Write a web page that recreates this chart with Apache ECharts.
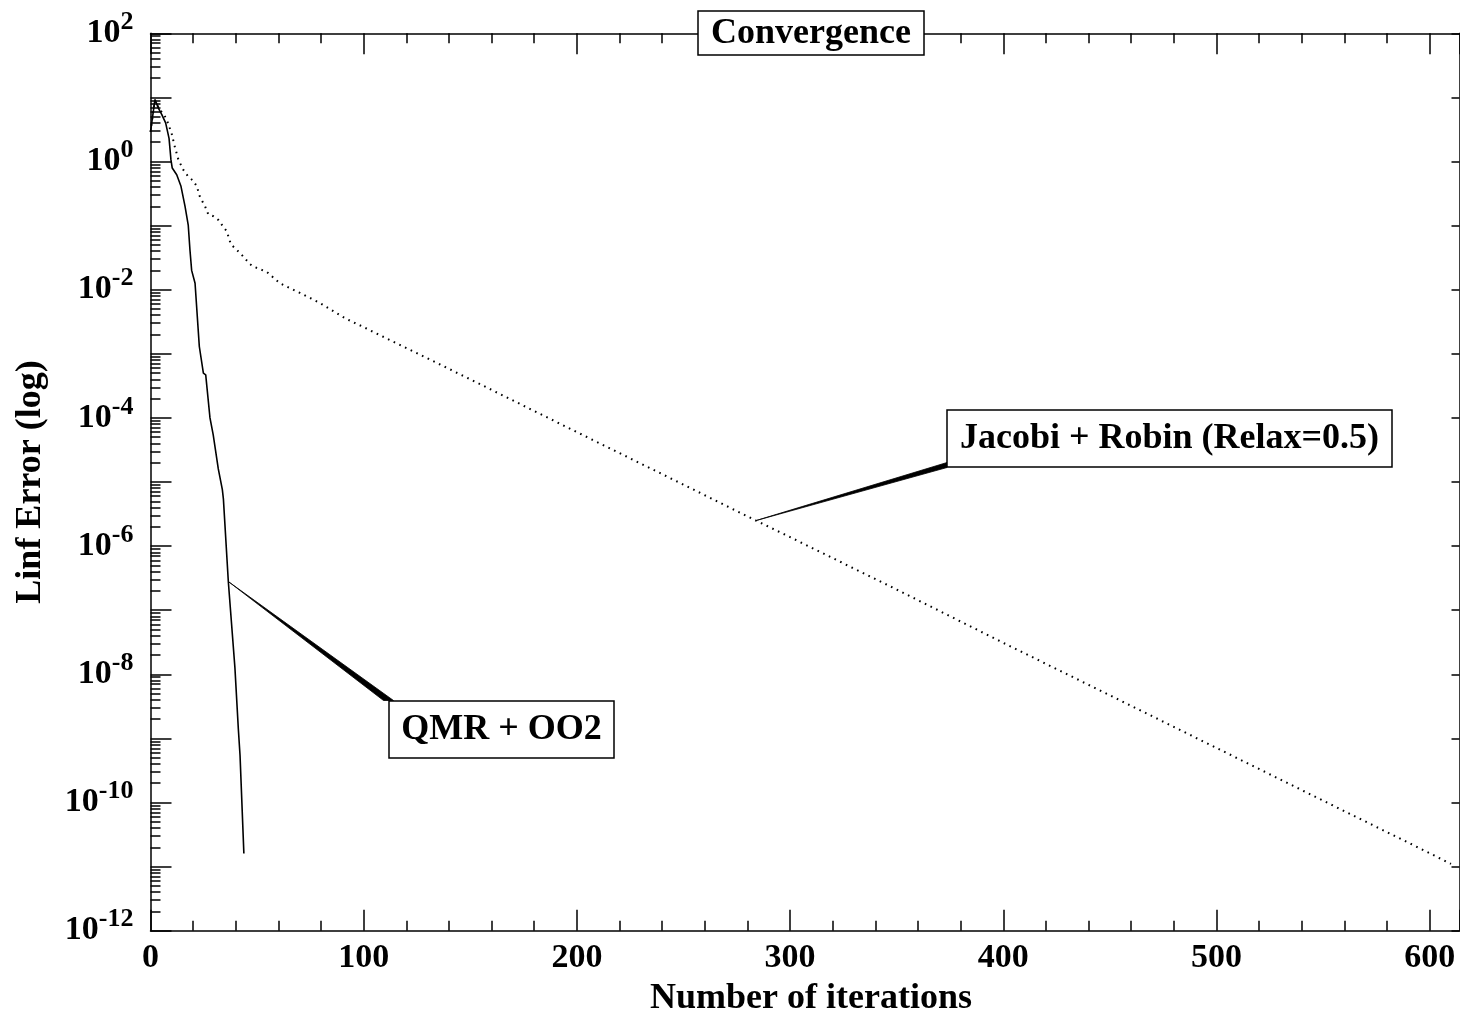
<!DOCTYPE html>
<html>
<head>
<meta charset="utf-8">
<title>Convergence</title>
<script src="https://cdn.jsdelivr.net/npm/echarts@6/dist/echarts.min.js"></script>
<style>
  html, body { margin: 0; padding: 0; background: #fff; }
  #main { width: 1460px; height: 1029px; }
</style>
</head>
<body>
<div id="main"></div>
<script>
// iterations / Linf error
var qmrIter = [0, 2.1, 3.7, 5.3, 7.1, 8.7, 9.6, 10.2, 12.3, 14.3, 16.2, 17.7, 18.5, 19.3, 20.9,
  22.9, 24.8, 25.9, 27.9, 29.4, 31.8, 33.7, 34.2, 36.5, 39.6, 41.2, 42.0, 43.8];
var qmrErr = [2.9, 9.3, 6.8, 5.4, 4.0, 2.3, 1.06, 0.79, 0.62, 0.41, 0.20, 0.102, 0.042, 0.020, 0.0126,
  1.3e-3, 5.0e-4, 4.7e-4, 1.0e-4, 5.5e-5, 1.6e-5, 7.6e-6, 5.4e-6, 2.8e-7, 1.26e-8, 1.4e-9, 5.4e-10, 1.6e-11];

var jacIter = [0, 2, 4.5, 6.0, 7.6, 9.9, 11.2, 13.1, 15.4, 17.7, 20.1, 21.7, 23.2, 25.6, 27.1, 29.5,
  31.8, 34.2, 35.8, 37.7, 40.4, 42.8, 46.7, 48.2, 54.5, 60.7, 70.1, 79.5, 91.2, 100, 150, 200, 250,
  284, 300, 350, 400, 450, 500, 550, 600, 610];
var jacErr = [2.9, 9.0, 6.3, 5.6, 4.5, 2.75, 1.8, 1.06, 0.74, 0.58, 0.50, 0.41, 0.28, 0.20, 0.15, 0.14,
  0.123, 0.095, 0.081, 0.051, 0.042, 0.035, 0.025, 0.023, 0.019, 0.0126, 0.0089, 0.0062, 0.0036, 2.6e-3,
  4.0e-4, 6.0e-5, 9.1e-6, 2.5e-6, 1.38e-6, 2.1e-7, 3.1e-8, 4.7e-9, 7.1e-10, 1.07e-10, 1.62e-11, 1.1e-11];

// labels of the two curves and where their leaders touch the curve
var qmrLabel = 'QMR + OO2';
var jacLabel = 'Jacobi + Robin (Relax=0.5)';
var qmrAnchor = [36.5, 2.8e-7];
var jacAnchor = [284, 2.5e-6];

var xMin = 0, xMax = 614, xStep = 100;
var yMinExp = -12, yMaxExp = 2;

var FONT = '"Liberation Serif", "Times New Roman", serif';

function zip(a, b) {
  var out = [];
  for (var i = 0; i < a.length; i++) out.push([a[i], b[i]]);
  return out;
}

// log minor ticks (2..9 in every decade), in exponent space
var minorVals = [];
for (var e = yMinExp; e < yMaxExp; e++) {
  for (var k = 2; k <= 9; k++) minorVals.push(e + Math.log10(k));
}

var myChart = echarts.init(document.getElementById('main'));

var axisLine = { show: true, onZero: false, lineStyle: { color: '#000', width: 1.5 } };
var noLine = { show: false, onZero: false };
var tickLine = { color: '#000', width: 1.5 };

var option = {
  animation: false,
  backgroundColor: '#fff',
  grid: { left: 150.5, right: 0.5, top: 33.3, bottom: 98.3, containLabel: false, outerBoundsMode: 'none' },
  xAxis: [
    {
      type: 'value', position: 'bottom', min: xMin, max: xMax, interval: xStep,
      axisLine: axisLine,
      axisTick: { inside: true, length: 21, lineStyle: tickLine },
      minorTick: { show: true, splitNumber: 5, length: 10, lineStyle: tickLine },
      splitLine: { show: false },
      axisLabel: {
        margin: 11, fontSize: 34, fontWeight: 'bold', fontFamily: FONT, color: '#000',
        formatter: function (v) { return v % 100 === 0 ? String(v) : ''; }
      },
      name: 'Number of iterations', nameLocation: 'middle', nameGap: 50,
      nameTextStyle: { fontSize: 36, fontWeight: 'bold', fontFamily: FONT, color: '#000', padding: [0, 0, 0, 12] }
    },
    {
      type: 'value', position: 'top', min: xMin, max: xMax, interval: xStep,
      axisLine: axisLine,
      axisTick: { inside: true, length: 21, lineStyle: tickLine },
      minorTick: { show: true, splitNumber: 5, length: 10, lineStyle: tickLine },
      splitLine: { show: false },
      axisLabel: { show: false }
    }
  ],
  yAxis: [
    {
      // the log axis the curves are drawn on
      type: 'log', logBase: 10, position: 'left',
      min: Math.pow(10, yMinExp), max: Math.pow(10, yMaxExp),
      axisLine: noLine, axisTick: { show: false }, axisLabel: { show: false },
      splitLine: { show: false }
    },
    {
      // decades (exponent space), labels 10^n on even n
      type: 'value', position: 'left', min: yMinExp, max: yMaxExp, interval: 1,
      axisLine: axisLine,
      axisTick: { inside: true, length: 21, lineStyle: tickLine },
      splitLine: { show: false },
      axisLabel: {
        margin: 17, interval: 0, color: '#000',
        formatter: function (v) {
          var p = Math.round(v);
          if (p % 2 !== 0) return '';
          return '{b|10}{s|' + p + '}';
        },
        rich: {
          b: { fontSize: 34, fontWeight: 'bold', fontFamily: FONT, color: '#000', lineHeight: 48 },
          s: { fontSize: 26, fontWeight: 'bold', fontFamily: FONT, color: '#000', lineHeight: 26, verticalAlign: 'top' }
        }
      },
      name: 'Linf Error (log)', nameLocation: 'middle', nameGap: 102, nameRotate: 90,
      nameTextStyle: { fontSize: 36, fontWeight: 'bold', fontFamily: FONT, color: '#000' }
    },
    {
      // minor ticks of the log axis
      type: 'value', position: 'left', min: yMinExp, max: yMaxExp,
      axisLine: noLine,
      axisTick: { inside: true, length: 10, lineStyle: tickLine, customValues: minorVals },
      axisLabel: { show: false },
      splitLine: { show: false }
    },
    {
      type: 'value', position: 'right', min: yMinExp, max: yMaxExp, interval: 1,
      axisLine: axisLine,
      axisTick: { inside: true, length: 8, lineStyle: tickLine },
      axisLabel: { show: false },
      splitLine: { show: false }
    }
  ],
  series: [
    {
      name: qmrLabel, type: 'line', xAxisIndex: 0, yAxisIndex: 0,
      data: zip(qmrIter, qmrErr), showSymbol: false, symbol: 'none',
      lineStyle: { color: '#000', width: 1.6, type: 'solid' }
    },
    {
      name: jacLabel, type: 'line', xAxisIndex: 0, yAxisIndex: 0,
      data: zip(jacIter, jacErr), showSymbol: false, symbol: 'none',
      lineStyle: { color: '#000', width: 2, type: [1.6, 4.7] }
    }
  ]
};

myChart.setOption(option);

// label boxes with wedge leaders
function boxText(cx, cy, txt) {
  return {
    type: 'text', z: 102, x: cx, y: cy,
    style: { text: txt, fill: '#000', font: 'bold 36px ' + FONT, align: 'center', verticalAlign: 'middle' }
  };
}
function boxRect(x, y, w, h) {
  return {
    type: 'rect', z: 101, shape: { x: x, y: y, width: w, height: h },
    style: { fill: '#fff', stroke: '#000', lineWidth: 1.5 }
  };
}
function wedge(p, a, b) {
  return {
    type: 'polygon', z: 100, shape: { points: [p, a, b] },
    style: { fill: '#000', stroke: '#000', lineWidth: 0.8 }
  };
}

var pq = myChart.convertToPixel({ xAxisIndex: 0, yAxisIndex: 0 }, qmrAnchor);
var pj = myChart.convertToPixel({ xAxisIndex: 0, yAxisIndex: 0 }, jacAnchor);

myChart.setOption({
  graphic: [
    boxRect(698, 11, 226, 44),
    boxText(811, 33.5, 'Convergence'),
    wedge(pj, [947, 462.5], [947, 467.5]),
    boxRect(947, 410, 445, 57),
    boxText(1169.5, 439, jacLabel),
    wedge(pq, [383.5, 700.5], [393.5, 700.5]),
    boxRect(389, 701, 225, 57),
    boxText(501.5, 730, qmrLabel)
  ]
});
</script>
</body>
</html>
